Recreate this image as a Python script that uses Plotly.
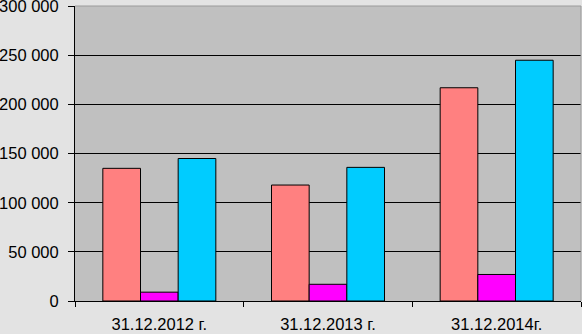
import plotly.graph_objects as go

categories = ["31.12.2012 г.", "31.12.2013 г.", "31.12.2014г."]
series_a = [135000, 118000, 217000]
series_b = [9000, 17000, 27000]
series_c = [145000, 136000, 245000]
colors = ["#FF8080", "#FF00FF", "#00CCFF"]
y_ticks = [0, 50000, 100000, 150000, 200000, 250000, 300000]
y_tick_labels = ["0", "50 000", "100 000", "150 000", "200 000", "250 000", "300 000"]

fig = go.Figure()
for vals, col in zip([series_a, series_b, series_c], colors):
    fig.add_trace(go.Bar(x=categories, y=vals, marker=dict(color=col, line=dict(color="black", width=1)),
                         showlegend=False))

fig.update_layout(
    width=582, height=334,
    margin=dict(l=75, r=1, t=6, b=33, autoexpand=False),
    paper_bgcolor="#E3E3E3", plot_bgcolor="#C0C0C0",
    barmode="group", bargap=0.33, bargroupgap=0,
    font=dict(family="Liberation Sans, Arial", size=16.5, color="black"),
)
fig.update_yaxes(range=[0, 300200], tickmode="array", tickvals=y_ticks, ticktext=y_tick_labels,
                 showgrid=True, gridcolor="black", ticklabeloverflow="allow",
                 gridwidth=1, showline=True, linecolor="black", linewidth=1, ticks="outside",
                 ticklen=6, tickcolor="black", zeroline=False, ticklabelstandoff=6, automargin=False)
fig.update_xaxes(showline=True, linecolor="black", linewidth=1, ticks="outside", tickson="boundaries",
                 ticklen=5, tickcolor="black", showgrid=False, automargin=False, ticklabelstandoff=8)
fig.add_shape(type="line", xref="paper", yref="paper", x0=0, x1=1, y0=1, y1=1,
              line=dict(color="#9A9A9A", width=1), layer="above")
fig.add_shape(type="line", xref="paper", yref="paper", x0=1, x1=1, y0=0, y1=1,
              line=dict(color="#9A9A9A", width=1), layer="above")

fig.write_html("out.html", config={"displayModeBar": False},
               post_script="document.body.style.margin='0';document.body.style.overflow='hidden';")
